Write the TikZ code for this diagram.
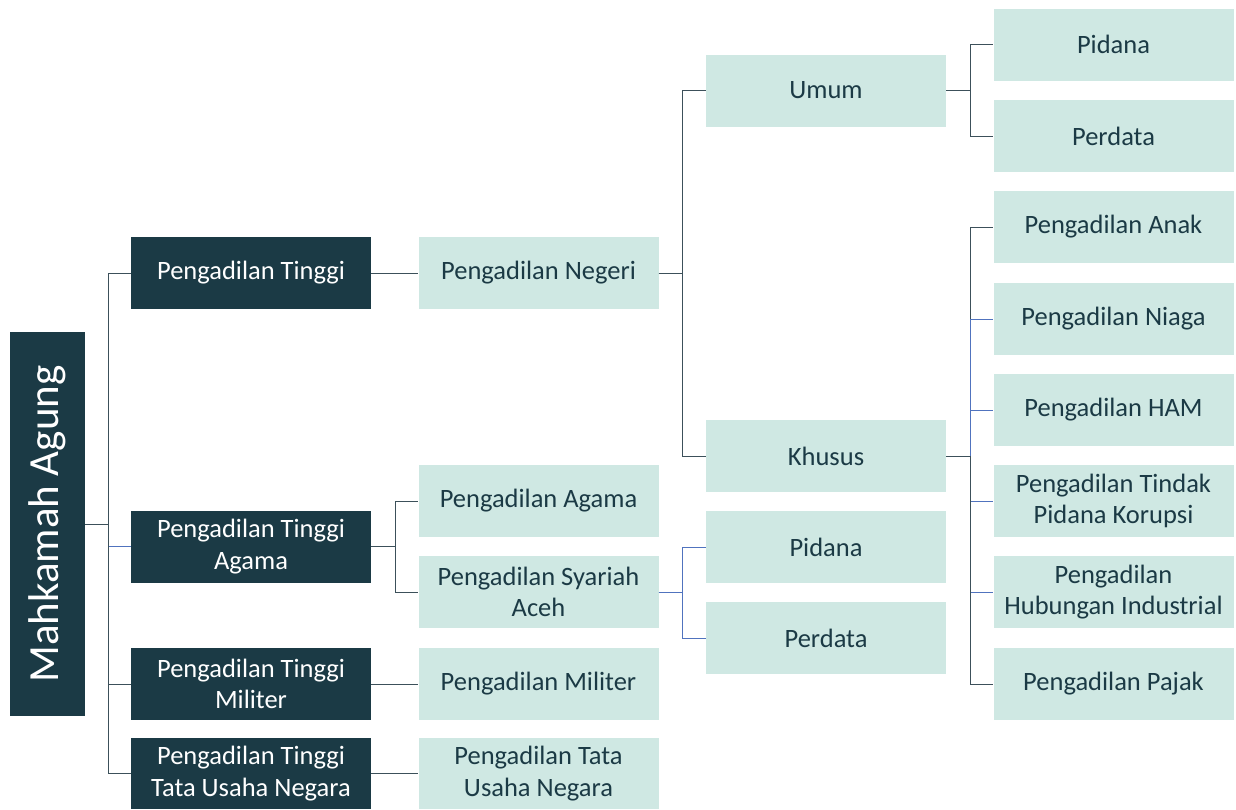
\documentclass[tikz,border=0pt]{standalone}
\usepackage{fontspec}
\setmainfont{Carlito}
\definecolor{darkbox}{RGB}{27,58,69}
\definecolor{lightbox}{RGB}{207,232,227}
\definecolor{linegray}{RGB}{60,80,90}
\definecolor{lineblue}{RGB}{80,115,190}
\tikzset{
  base/.style={inner sep=2pt, align=center, minimum width=240pt, minimum height=72pt,
    font=\fontsize{26.5}{31.5}\selectfont},
  dbox/.style={base, fill=darkbox, text=white},
  lbox/.style={base, fill=lightbox, text=darkbox},
  conn/.style={draw=linegray, line width=0.9pt},
  connb/.style={draw=lineblue, line width=0.9pt}
}
\begin{document}
\begin{tikzpicture}[x=1pt,y=-1pt]
\useasboundingbox (0,0) rectangle (1236,809);

% root
\node[fill=darkbox, text=white, rotate=90, minimum width=384pt, minimum height=75pt,
  inner sep=0pt, font=\fontsize{43}{48}\selectfont] (ma) at (47.5,524) {Mahkamah Agung};

% high courts
\node[dbox] (pt)   at (251,273) {Pengadilan Tinggi};
\node[dbox] (pta)  at (251,546.5) {Pengadilan Tinggi\\Agama};
\node[dbox] (ptm)  at (251,684) {Pengadilan Tinggi\\Militer};
\node[dbox, minimum height=71pt] (ptt) at (251,773.5) {Pengadilan Tinggi\\Tata Usaha Negara};

% first instance courts
\node[lbox] (pn)   at (538.5,273) {Pengadilan Negeri};
\node[lbox] (pa)   at (538.5,501) {Pengadilan Agama};
\node[lbox] (psa)  at (538.5,592) {Pengadilan Syariah\\Aceh};
\node[lbox] (pm)   at (538.5,684) {Pengadilan Militer};
\node[lbox, minimum height=71pt] (ptun) at (538.5,773.5) {Pengadilan Tata\\Usaha Negara};

% third level
\node[lbox] (umum)   at (826,90.5) {Umum};
\node[lbox] (khusus) at (826,456) {Khusus};
\node[lbox] (spid)   at (826,547) {Pidana};
\node[lbox] (sper)   at (826,638) {Perdata};

% fourth level
\node[lbox] (upid)  at (1113.5,44.5) {Pidana};
\node[lbox] (uper)  at (1113.5,136) {Perdata};
\node[lbox] (anak)  at (1113.5,227) {Pengadilan Anak};
\node[lbox] (niaga) at (1113.5,319) {Pengadilan Niaga};
\node[lbox] (ham)   at (1113.5,410) {Pengadilan HAM};
\node[lbox] (tipikor) at (1113.5,501) {Pengadilan Tindak\\Pidana Korupsi};
\node[lbox] (phi)   at (1113.5,592) {Pengadilan\\Hubungan Industrial};
\node[lbox] (pajak) at (1113.5,684) {Pengadilan Pajak};

% connectors
\draw[conn]  (ma.south) -- ++(23,0) |- (pt.west);
\draw[connb] (ma.south) -- ++(23,0) |- (pta.west);
\draw[conn]  (ma.south) -- ++(23,0) |- (ptm.west);
\draw[conn]  (ma.south) -- ++(23,0) |- (ptt.west);

\draw[conn] (pt.east) -- (pn.west);
\draw[conn] (pta.east) -- ++(24,0) |- (pa.west);
\draw[conn] (pta.east) -- ++(24,0) |- (psa.west);
\draw[conn] (ptm.east) -- (pm.west);
\draw[conn] (ptt.east) -- (ptun.west);

\draw[conn] (pn.east) -- ++(24,0) |- (umum.west);
\draw[conn] (pn.east) -- ++(24,0) |- (khusus.west);

\draw[connb] (psa.east) -- ++(24,0) |- (spid.west);
\draw[connb] (psa.east) -- ++(24,0) |- (sper.west);

\draw[conn] (umum.east) -- ++(24,0) |- (upid.west);
\draw[conn] (umum.east) -- ++(24,0) |- (uper.west);

\draw[conn]  (khusus.east) -- ++(24,0) |- (anak.west);
\draw[connb] (khusus.east) -- ++(24,0) |- (niaga.west);
\draw[connb] (khusus.east) -- ++(24,0) |- (ham.west);
\draw[connb] (khusus.east) -- ++(24,0) |- (tipikor.west);
\draw[connb] (khusus.east) -- ++(24,0) |- (phi.west);
\draw[conn]  (khusus.east) -- ++(24,0) |- (pajak.west);
\end{tikzpicture}
\end{document}
